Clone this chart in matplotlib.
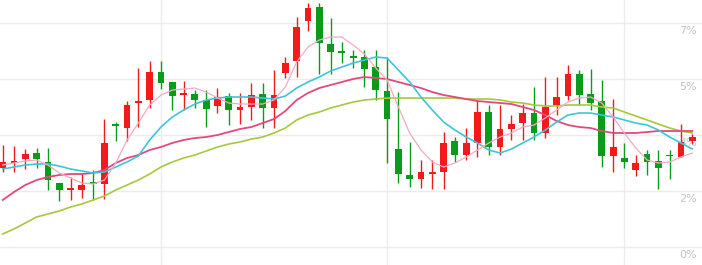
import matplotlib
matplotlib.use("Agg")
import matplotlib.pyplot as plt
import matplotlib.transforms as mtransforms
import numpy as np

# daily candles (in %)
opens = [2.549, 2.716, 2.828, 3.021, 2.732, 2.057, 1.848, 1.832, 2.089, 2.025,
         3.937, 3.825, 4.628, 4.725, 5.625, 5.303, 4.892, 4.917, 4.725, 4.532,
         4.853, 4.403, 4.500, 4.917, 4.467, 5.592, 5.978, 7.264, 7.714, 6.524,
         6.283, 6.139, 6.107, 5.785, 5.014, 3.150, 2.314, 2.186, 2.362, 2.410,
         3.407, 2.957, 3.343, 4.339, 3.214, 3.793, 3.985, 4.307, 3.664, 4.564,
         4.853, 5.560, 4.917, 4.692, 2.925, 2.860, 2.475, 2.989, 2.764, 2.941,
         2.893, 3.407]
highs = [3.278, 3.246, 3.150, 3.182, 3.182, 2.057, 2.250, 2.378, 2.475, 4.114,
         4.018, 4.692, 5.753, 5.978, 5.978, 5.303, 5.335, 5.046, 5.046, 5.110,
         4.950, 4.950, 5.271, 5.271, 5.689, 6.107, 7.392, 7.842, 7.842, 7.360,
         6.589, 6.332, 6.332, 6.332, 6.107, 4.982, 3.375, 2.796, 2.796, 3.696,
         3.535, 3.825, 4.725, 4.564, 4.564, 4.242, 4.596, 5.142, 5.464, 5.464,
         5.849, 5.689, 5.721, 5.367, 4.757, 3.343, 2.957, 3.118, 3.118, 3.118,
         3.953, 3.632]
lows = [2.410, 2.410, 2.507, 2.539, 1.832, 1.478, 1.511, 1.575, 1.511, 1.543,
        3.407, 3.407, 3.857, 4.467, 5.078, 4.403, 4.403, 4.467, 3.857, 4.307,
        3.921, 3.953, 4.082, 3.825, 3.825, 5.432, 5.464, 6.942, 5.560, 5.560,
        5.914, 5.753, 5.142, 4.725, 2.700, 2.057, 1.928, 1.896, 1.864, 1.864,
        2.732, 2.796, 2.893, 2.957, 2.957, 3.439, 3.439, 3.439, 3.503, 4.242,
        4.725, 4.564, 4.403, 2.571, 2.410, 2.539, 2.282, 2.314, 1.864, 2.186,
        2.893, 3.310]
closes = [2.722, 2.764, 2.989, 2.828, 2.153, 1.832, 1.880, 1.993, 2.025, 3.343,
          3.905, 4.564, 4.692, 5.625, 5.271, 4.853, 4.924, 4.725, 4.435, 4.821,
          4.403, 4.500, 4.885, 4.467, 4.885, 5.914, 7.071, 7.681, 6.557, 6.267,
          6.251, 6.074, 5.721, 5.046, 4.114, 2.346, 2.186, 2.410, 2.394, 3.343,
          2.957, 3.343, 4.339, 3.214, 3.793, 3.953, 4.307, 3.664, 4.500, 4.821,
          5.560, 4.885, 4.628, 2.925, 3.214, 2.732, 2.700, 2.732, 2.539, 2.909,
          3.375, 3.535]

# moving averages
ma5 = [2.636, 2.700, 2.764, 2.796, 2.636, 2.378, 2.218, 2.057, 2.025, 2.153,
       2.700, 3.439, 3.985, 4.564, 4.885, 5.046, 5.078, 5.110, 4.982, 4.789,
       4.628, 4.596, 4.596, 4.596, 4.725, 5.142, 5.946, 6.428, 6.653, 6.749,
       6.749, 6.492, 6.203, 5.753, 5.367, 4.500, 3.664, 3.118, 2.732, 2.571,
       2.700, 2.893, 3.118, 3.343, 3.535, 3.664, 3.857, 3.921, 4.146, 4.403,
       4.660, 4.789, 4.821, 4.628, 4.178, 3.664, 3.182, 2.796, 2.700, 2.732,
       2.893, 3.021]
ma10 = [2.507, 2.571, 2.636, 2.668, 2.668, 2.603, 2.507, 2.443, 2.378, 2.411,
        2.571, 2.732, 2.925, 3.439, 3.857, 4.178, 4.403, 4.596, 4.725, 4.789,
        4.821, 4.821, 4.821, 4.789, 4.757, 4.853, 5.110, 5.303, 5.464, 5.657,
        5.785, 5.914, 6.010, 6.107, 6.074, 5.689, 5.303, 4.821, 4.403, 4.018,
        3.760, 3.535, 3.343, 3.118, 3.021, 3.150, 3.343, 3.535, 3.760, 4.018,
        4.242, 4.307, 4.307, 4.242, 4.178, 4.082, 3.985, 3.921, 3.760, 3.535,
        3.343, 3.150]
ma20 = [1.511, 1.768, 1.993, 2.153, 2.250, 2.314, 2.346, 2.346, 2.378, 2.475,
        2.700, 2.860, 2.957, 3.118, 3.214, 3.343, 3.439, 3.503, 3.535, 3.600,
        3.696, 3.793, 3.857, 3.985, 4.114, 4.371, 4.725, 4.950, 5.110, 5.207,
        5.303, 5.400, 5.464, 5.432, 5.400, 5.303, 5.207, 5.110, 4.982, 4.885,
        4.821, 4.757, 4.692, 4.660, 4.628, 4.596, 4.500, 4.403, 4.242, 4.050,
        3.921, 3.857, 3.825, 3.728, 3.664, 3.664, 3.664, 3.696, 3.728, 3.728,
        3.728, 3.728]
ma30 = [0.418, 0.579, 0.771, 0.964, 1.061, 1.157, 1.286, 1.382, 1.511, 1.639,
        1.832, 1.993, 2.153, 2.346, 2.571, 2.732, 2.860, 2.957, 3.085, 3.214,
        3.310, 3.375, 3.471, 3.535, 3.664, 3.825, 4.082, 4.242, 4.339, 4.467,
        4.564, 4.660, 4.725, 4.757, 4.789, 4.789, 4.789, 4.789, 4.789, 4.789,
        4.789, 4.757, 4.757, 4.757, 4.725, 4.660, 4.628, 4.564, 4.532, 4.532,
        4.564, 4.564, 4.564, 4.500, 4.467, 4.339, 4.210, 4.082, 3.953, 3.825,
        3.728, 3.664]

ytick_vals = [0, 1.8, 3.6, 5.4, 7.2]
ytick_labels = ["0%", "2%", "4%", "5%", "7%"]
vgrid_idx = [14, 34, 55]

UP_COLOR = "#f21a1a"
DOWN_COLOR = "#0b9b1b"
MA_COLORS = ["#f5a9c4", "#3ec5d8", "#e4487f", "#a6c83c"]
GRID_COLOR = "#ececec"

fig = plt.figure(figsize=(7.02, 2.65), dpi=100)
ax = fig.add_axes([0, 0, 1, 1])

x = np.arange(len(opens))
o = np.array(opens)
c = np.array(closes)
colors = [UP_COLOR if cc >= oo else DOWN_COLOR for oo, cc in zip(o, c)]

for v in ytick_vals:
    ax.axhline(v, color=GRID_COLOR, lw=1, zorder=0)
for i in vgrid_idx:
    ax.axvline(i, color=GRID_COLOR, lw=1, zorder=0)

trans = mtransforms.blended_transform_factory(ax.transAxes, ax.transData)
for v, lab in zip(ytick_vals, ytick_labels):
    ax.annotate(lab, xy=(0.993, v), xycoords=trans, xytext=(0, -2.5),
                textcoords="offset points", ha="right", va="top",
                fontsize=8, color="#c4c4c4", zorder=1)

ax.vlines(x, lows, highs, colors=colors, lw=1, zorder=2)
body = np.maximum(np.abs(c - o), 0.045)
ax.bar(x, body, bottom=np.minimum(o, c), width=0.6, color=colors,
       linewidth=0, zorder=3)

for ma, col, lw in zip([ma30, ma20, ma10, ma5], MA_COLORS[::-1], [1.2, 1.3, 1.2, 0.9]):
    ax.plot(x, ma, color=col, lw=lw, zorder=4)

ax.set_xlim(-0.24, 61.86)
ax.set_ylim(-0.579, 7.94)
ax.axis("off")

fig.savefig("out.png", dpi=100)
